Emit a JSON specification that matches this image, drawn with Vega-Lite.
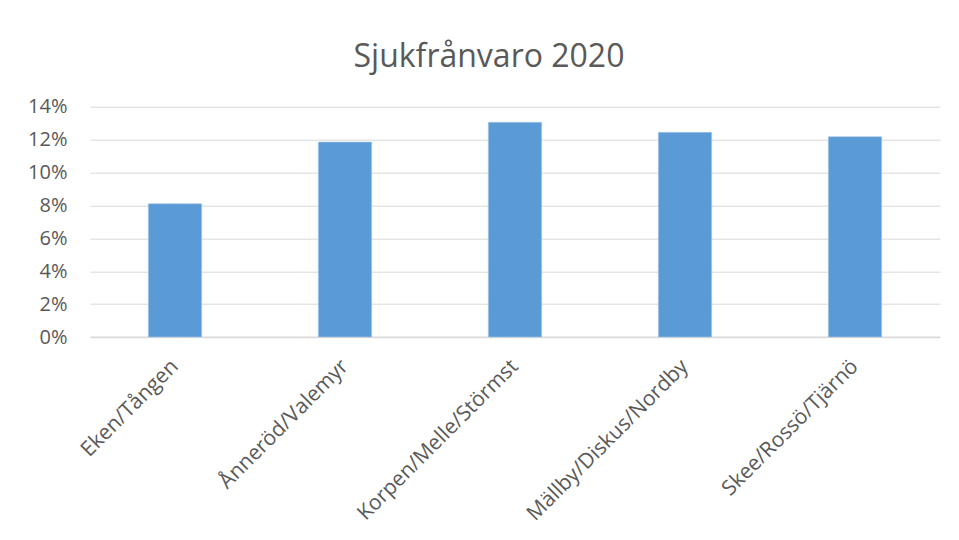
{
  "$schema": "https://vega.github.io/schema/vega-lite/v6.json",
  "autosize": {"type": "none"},
  "width": 850,
  "height": 230.3,
  "padding": {"left": 90, "top": 106.7, "right": 19, "bottom": 203},
  "background": "white",
  "title": {
    "text": "Sjukfrånvaro 2020",
    "font": "Open Sans",
    "fontSize": 32,
    "fontWeight": "normal",
    "color": "#595959",
    "anchor": "middle",
    "frame": "group",
    "baseline": "alphabetic",
    "offset": -2,
    "dx": -26
  },
  "data": {
    "values": [
      {"enhet": "Eken/Tången", "andel": 0.081},
      {"enhet": "Ånneröd/Valemyr", "andel": 0.1185},
      {"enhet": "Korpen/Melle/Störmst", "andel": 0.1305},
      {"enhet": "Mällby/Diskus/Nordby", "andel": 0.1244},
      {"enhet": "Skee/Rossö/Tjärnö", "andel": 0.1218}
    ]
  },
  "mark": {"type": "bar", "color": "#5b9bd5", "stroke": "#a9c9ea", "strokeWidth": 0.6},
  "encoding": {
    "x": {
      "field": "enhet",
      "type": "nominal",
      "sort": null,
      "scale": {"paddingInner": 0.686, "paddingOuter": 0.343},
      "axis": {
        "title": null,
        "labelAngle": -45,
        "labelAlign": "right",
        "labelBaseline": "middle",
        "labelFont": "Open Sans",
        "labelFontSize": 21,
        "labelColor": "#595959",
        "labelPadding": 26,
        "labelLimit": 0,
        "ticks": false,
        "domain": true,
        "domainColor": "#d9d9d9",
        "domainWidth": 1.5,
        "grid": false
      }
    },
    "y": {
      "field": "andel",
      "type": "quantitative",
      "scale": {"domain": [0, 0.14]},
      "axis": {
        "title": null,
        "values": [0, 0.02, 0.04, 0.06, 0.08, 0.1, 0.12, 0.14],
        "format": ".0%",
        "labelFont": "Open Sans",
        "labelFontSize": 20,
        "labelColor": "#595959",
        "labelPadding": 23,
        "ticks": false,
        "domain": false,
        "grid": true,
        "gridColor": "#d9d9d9",
        "gridWidth": 1
      }
    }
  },
  "config": {"view": {"stroke": null}}
}
